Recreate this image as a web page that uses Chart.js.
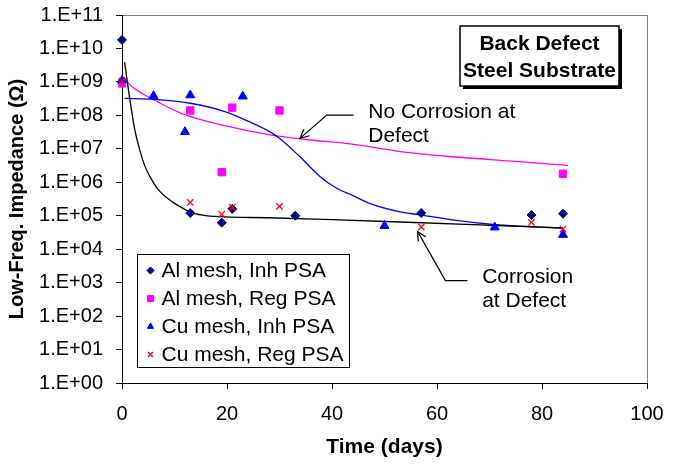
<!DOCTYPE html>
<html><head><meta charset="utf-8">
<script src="https://cdn.jsdelivr.net/npm/chart.js@4/dist/chart.umd.min.js"></script>
<style>html,body{margin:0;padding:0;background:#fff;}</style>
</head><body>
<canvas id="c" width="677" height="466"></canvas>
<script>
const FONT = "'Liberation Sans', Arial, sans-serif";

// ---- measured data (days, impedance in ohm) ----
const alInhDays = [0, 13, 19, 21, 33, 57, 78, 84];
const alInhVals = [1.8e10, 1.2e5, 6.2e4, 1.6e5, 1.0e5, 1.2e5, 1.05e5, 1.15e5];
const alRegDays = [0, 13, 19, 21, 30, 84];
const alRegVals = [9e8, 1.4e8, 2e6, 1.7e8, 1.4e8, 1.8e6];
const cuInhDays = [0, 6, 12, 13, 23, 50, 71, 84];
const cuInhVals = [1.1e9, 3.8e8, 3.2e7, 4e8, 3.7e8, 5e4, 4.5e4, 2.7e4];
const cuRegDays = [0, 13, 19, 21, 30, 57, 78, 84];
const cuRegVals = [1.05e9, 2.5e5, 1.1e5, 1.8e5, 1.9e5, 4.6e4, 6.3e4, 4e4];

// hand-drawn trend curves
const blackDays = [0.5, 1.1, 1.5, 2.4, 3.4, 4.3, 5.3, 6.9, 10.7, 13.9, 17.7, 28, 40, 53, 70, 84];
const blackVals = [3.9e9, 8e8, 2.9e8, 4e7, 9e6, 3.2e6, 1.5e6, 6e5, 2e5, 1.15e5, 9.5e4, 8.7e4, 7.6e4, 6.5e4, 5.2e4, 4.3e4];
const blueDays = [0.5, 6, 13, 19.6, 24.4, 28.2, 30.1, 33.9, 37.7, 40.9, 44, 47.3, 53, 57.1, 64, 71.1, 84];
const blueVals = [3.2e8, 3e8, 2.3e8, 1.3e8, 6.3e7, 3.2e7, 2e7, 5.8e6, 1.5e6, 6.6e5, 4e5, 2.3e5, 1.3e5, 1.05e5, 7.1e4, 5.4e4, 4.3e4];
const pinkDays = [0.3, 2, 5, 11.3, 19.6, 28.2, 35, 43.5, 53, 62.5, 75, 85];
const pinkVals = [1.4e9, 7e8, 3.6e8, 1.15e8, 4.9e7, 2.6e7, 1.9e7, 1.4e7, 8.3e6, 5.9e6, 4.2e6, 3.2e6];

const yTicks = [1, 1e1, 1e2, 1e3, 1e4, 1e5, 1e6, 1e7, 1e8, 1e9, 1e10, 1e11];
const xTicks = [0, 20, 40, 60, 80, 100];

const seriesLabels = ['Al mesh, Inh PSA', 'Al mesh, Reg PSA', 'Cu mesh, Inh PSA', 'Cu mesh, Reg PSA'];
const titleLines = ['Back Defect', 'Steel Substrate'];
const yTitle = 'Low-Freq. Impedance (\u03A9)';
const xTitle = 'Time (days)';
const noteNoCorr = {text: ['No Corrosion at', 'Defect'], tip: [33.9, 2.05e7], elbow: [39, 1.02e8], end: [44.1, 1.02e8], textAt: [46.9, 1.26e8]};
const noteCorr = {text: ['Corrosion', 'at Defect'], tip: [56.3, 3.4e4], elbow: [61.6, 1.15e3], end: [65.8, 1.15e3], textAt: [68.6, 1.44e3]};

const pts = (d, v) => d.map((x, i) => ({x, y: v[i]}));

function scatterSet(label, d, v, style, color, r, order, bw) {
  return {type: 'scatter', label, data: pts(d, v), pointStyle: style, pointRadius: r, pointHoverRadius: r,
    backgroundColor: color, borderColor: color, pointBorderWidth: bw, showLine: false, order, clip: false};
}
function curveSet(d, v, color) {
  return {type: 'line', label: '', data: pts(d, v), borderColor: color, borderWidth: 1.3, pointRadius: 0,
    cubicInterpolationMode: 'monotone', fill: false, order: 10, clip: false};
}

const datasets = [
  scatterSet(seriesLabels[0], alInhDays, alInhVals, 'rectRot', '#000080', 4.5, 3, 1),
  scatterSet(seriesLabels[1], alRegDays, alRegVals, 'rect', '#FF00FF', 5.2, 2, 1),
  scatterSet(seriesLabels[2], cuInhDays, cuInhVals, 'triangle', '#0000FF', 5.2, 1, 1),
  scatterSet(seriesLabels[3], cuRegDays, cuRegVals, 'crossRot', '#FF0000', 4.5, 0, 1.3),
  curveSet(blackDays, blackVals, '#000000'),
  curveSet(blueDays, blueVals, '#0000FF'),
  curveSet(pinkDays, pinkVals, '#FF00FF'),
];

const frame = {
  id: 'frame',
  beforeDraw(chart) {
    const {ctx, chartArea: a} = chart;
    ctx.save();
    ctx.fillStyle = '#fff';
    ctx.fillRect(0, 0, chart.width, chart.height);
    ctx.strokeStyle = '#808080';
    ctx.lineWidth = 1;
    ctx.strokeRect(a.left + 0.5, a.top + 0.5, a.right - a.left, a.bottom - a.top);
    ctx.restore();
  }
};

function arrow(ctx, chart, note) {
  const xs = chart.scales.x, ys = chart.scales.y;
  const P = p => [xs.getPixelForValue(p[0]), ys.getPixelForValue(p[1])];
  const tip = P(note.tip), el = P(note.elbow), en = P(note.end), tx = P(note.textAt);
  ctx.save();
  ctx.strokeStyle = '#000';
  ctx.lineWidth = 1.2;
  ctx.beginPath();
  ctx.moveTo(en[0], en[1]); ctx.lineTo(el[0], el[1]); ctx.lineTo(tip[0], tip[1]);
  ctx.stroke();
  const ang = Math.atan2(tip[1] - el[1], tip[0] - el[0]);
  const L = 10, w = 0.45;
  ctx.beginPath();
  ctx.moveTo(tip[0] - L * Math.cos(ang - w), tip[1] - L * Math.sin(ang - w));
  ctx.lineTo(tip[0], tip[1]);
  ctx.lineTo(tip[0] - L * Math.cos(ang + w), tip[1] - L * Math.sin(ang + w));
  ctx.stroke();
  ctx.fillStyle = '#000';
  ctx.font = '21px ' + FONT;
  ctx.textAlign = 'left';
  ctx.textBaseline = 'middle';
  note.text.forEach((t, i) => ctx.fillText(t, tx[0], tx[1] + i * 24));
  ctx.restore();
}

const overlay = {
  id: 'overlay',
  afterDraw(chart) {
    const {ctx, chartArea: a} = chart;
    // legend box
    const lx = a.left + 15.5, ly = a.top + 239.5, lw = 212, lh = 113;
    ctx.save();
    ctx.fillStyle = '#fff';
    ctx.fillRect(lx, ly, lw, lh);
    ctx.strokeStyle = '#000';
    ctx.lineWidth = 1;
    ctx.strokeRect(lx, ly, lw, lh);
    ctx.font = '21px ' + FONT;
    ctx.textBaseline = 'middle';
    ctx.textAlign = 'left';
    for (let i = 0; i < 4; i++) {
      const ds = chart.data.datasets[i];
      const cy = ly + 16 + i * 28;
      ctx.fillStyle = ds.backgroundColor;
      ctx.strokeStyle = ds.borderColor;
      ctx.lineWidth = ds.pointBorderWidth;
      Chart.helpers.drawPoint(ctx, {pointStyle: ds.pointStyle, radius: ds.pointStyle === 'rect' ? 4.2 : 3.6, rotation: 0, borderWidth: ds.pointBorderWidth}, lx + 13, cy);
      ctx.fillStyle = '#000';
      ctx.fillText(ds.label, lx + 24, cy + 1);
    }
    ctx.restore();

    // title box
    const bw = 159, bh = 60;
    const bx = a.right - 28 - bw, by = a.top + 11;
    ctx.save();
    ctx.fillStyle = '#000';
    ctx.fillRect(bx + 3, by + 3, bw, bh);
    ctx.fillStyle = '#fff';
    ctx.fillRect(bx, by, bw, bh);
    ctx.strokeStyle = '#000';
    ctx.lineWidth = 1.5;
    ctx.strokeRect(bx, by, bw, bh);
    ctx.fillStyle = '#000';
    ctx.font = 'bold 21px ' + FONT;
    ctx.textAlign = 'center';
    ctx.textBaseline = 'middle';
    titleLines.forEach((t, i) => ctx.fillText(t, bx + bw / 2, by + 18 + i * 27));
    ctx.restore();

    arrow(ctx, chart, noteNoCorr);
    arrow(ctx, chart, noteCorr);
  }
};

new Chart(document.getElementById('c'), {
  type: 'scatter',
  data: {datasets},
  options: {
    responsive: false,
    animation: false,
    events: [],
    layout: {padding: {top: 15, right: 30, left: 0, bottom: 0}},
    plugins: {legend: {display: false}, tooltip: {enabled: false}},
    scales: {
      x: {
        type: 'linear', min: 0, max: 100,
        afterBuildTicks: s => { s.ticks = xTicks.map(v => ({value: v})); },
        ticks: {color: '#000', font: {family: FONT, size: 20}, padding: 13, maxRotation: 0},
        grid: {display: true, drawOnChartArea: false, drawTicks: true, tickLength: 6, color: '#000'},
        border: {display: true, color: '#000', width: 1},
        title: {display: true, text: xTitle, color: '#000', font: {family: FONT, size: 21, weight: 'bold'}, padding: {top: 0, bottom: 6}},
        afterFit: s => { s.height = 83; s.paddingLeft = 0; s.paddingRight = 0; }
      },
      y: {
        type: 'logarithmic', min: 1, max: 1e11,
        afterBuildTicks: s => { s.ticks = yTicks.map(v => ({value: v})); },
        ticks: {color: '#000', font: {family: FONT, size: 20}, padding: 13,
          callback: v => '1.E+' + String(Math.round(Math.log10(v))).padStart(2, '0')},
        grid: {display: true, drawOnChartArea: false, drawTicks: true, tickLength: 6, color: '#000'},
        border: {display: true, color: '#000', width: 1},
        title: {display: true, text: yTitle, color: '#000', font: {family: FONT, size: 20, weight: 'bold'}, padding: {top: 5, bottom: 0}},
        afterFit: s => { s.width = 122; s.paddingTop = 0; s.paddingBottom = 0; }
      }
    }
  },
  plugins: [frame, overlay]
});
</script>
</body></html>
